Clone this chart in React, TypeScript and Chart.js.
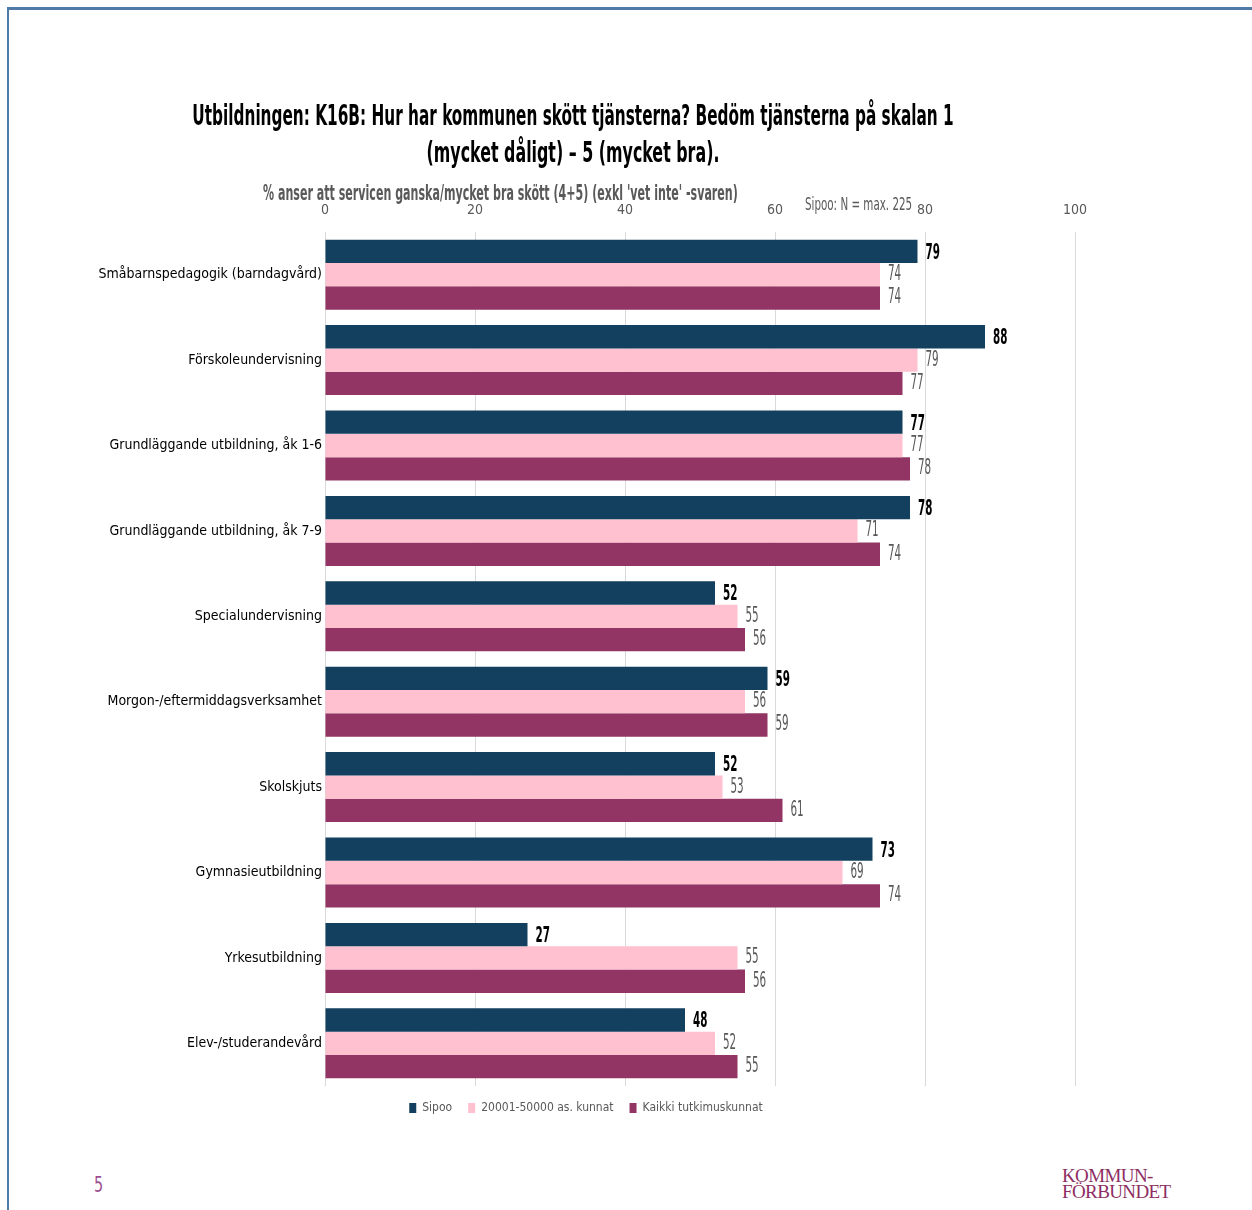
import React, { useEffect, useRef } from "react";
import { Chart, registerables } from "chart.js";

Chart.register(...registerables);

const categories = [
  "Småbarnspedagogik (barndagvård)",
  "Förskoleundervisning",
  "Grundläggande utbildning, åk 1-6",
  "Grundläggande utbildning, åk 7-9",
  "Specialundervisning",
  "Morgon-/eftermiddagsverksamhet",
  "Skolskjuts",
  "Gymnasieutbildning",
  "Yrkesutbildning",
  "Elev-/studerandevård",
];
const seriesNames = ["Sipoo", "20001-50000 as. kunnat", "Kaikki tutkimuskunnat"];
const sipooValues = [79, 88, 77, 78, 52, 59, 52, 73, 27, 48];
const midSizeValues = [74, 79, 77, 71, 55, 56, 53, 69, 55, 52];
const allValues = [74, 77, 78, 74, 56, 59, 61, 74, 56, 55];
const seriesColors = ["#13405f", "#ffc0cf", "#923565"];
const axisMin = 0;
const axisMax = 100;
const axisStep = 20;

const titleLines = [
  "Utbildningen: K16B: Hur har kommunen skött tjänsterna? Bedöm tjänsterna på skalan 1",
  "(mycket dåligt)  – 5 (mycket bra).",
];
const subtitleText = "% anser att servicen ganska/mycket bra skött (4+5) (exkl 'vet inte' -svaren)";
const noteText = "Sipoo: N = max. 225";

const NARROW = "'Liberation Sans Narrow', 'DejaVu Sans Condensed', 'Arial Narrow', sans-serif";

const dataLabelPlugin = {
  id: "dataLabels",
  afterDatasetsDraw(chart: any) {
    const ctx = chart.ctx;
    chart.data.datasets.forEach((ds: any, di: number) => {
      const meta = chart.getDatasetMeta(di);
      meta.data.forEach((el: any, i: number) => {
        const v = ds.data[i];
        ctx.save();
        ctx.translate(el.x + 8, el.y + (di === 0 ? 2 : 0));
        ctx.scale(0.72, 1.3);
        ctx.font = (di === 0 ? "bold " : "") + "16px " + NARROW;
        ctx.fillStyle = di === 0 ? "#000000" : "#595959";
        ctx.textAlign = "left";
        ctx.textBaseline = "middle";
        ctx.fillText(String(v), 0, 0);
        ctx.restore();
      });
    });
  },
};

function BarChart() {
  const ref = useRef<HTMLCanvasElement | null>(null);
  useEffect(() => {
    if (!ref.current) return;
    const chart = new Chart(ref.current, {
      type: "bar",
      data: {
        labels: categories,
        datasets: [sipooValues, midSizeValues, allValues].map((vals, i) => ({
          label: seriesNames[i],
          data: vals,
          backgroundColor: seriesColors[i],
          borderWidth: 0,
          barPercentage: 1,
          categoryPercentage: 0.82,
        })),
      },
      options: {
        indexAxis: "y",
        animation: false,
        responsive: false,
        maintainAspectRatio: false,
        layout: { padding: { top: 192, left: 97, right: 97, bottom: 6 } },
        scales: {
          x: {
            position: "top",
            min: axisMin,
            max: axisMax,
            ticks: {
              stepSize: axisStep,
              color: "#595959",
              padding: 13,
              font: { family: NARROW, size: 14 },
            },
            grid: { color: "#d9d9d9", drawTicks: false },
            border: { display: false },
            afterFit(scale: any) {
              scale.height = 40;
            },
          },
          y: {
            ticks: {
              color: "#000000",
              padding: 3,
              font: { family: NARROW, size: 14 },
            },
            grid: { display: false, drawTicks: false },
            border: { display: false },
            afterFit(scale: any) {
              scale.width = 228;
            },
          },
        },
        plugins: {
          legend: {
            position: "bottom",
            labels: {
              boxWidth: 7,
              boxHeight: 10,
              padding: 16,
              color: "#595959",
              font: { family: NARROW, size: 12 },
            },
          },
          tooltip: { enabled: false },
        },
      },
      plugins: [dataLabelPlugin],
    } as any);
    return () => chart.destroy();
  }, []);
  return (
    <canvas
      ref={ref}
      width={1172}
      height={1130}
      style={{ position: "absolute", left: 0, top: 0, width: 1172, height: 1130 }}
    />
  );
}

export default function App() {
  const textBase: React.CSSProperties = {
    position: "absolute",
    whiteSpace: "nowrap",
    fontFamily: NARROW,
  };
  return (
    <div
      style={{
        position: "absolute",
        left: 0,
        top: 0,
        width: 1252,
        height: 1210,
        background: "#ffffff",
        overflow: "hidden",
      }}
    >
      <div style={{ position: "absolute", left: 7, top: 7, width: 1245, height: 3, background: "#4f7ba6" }} />
      <div style={{ position: "absolute", left: 7, top: 7, width: 2, height: 1203, background: "#4f7ba6" }} />
      <BarChart />
      {titleLines.map((t, i) => (
        <div
          key={i}
          style={{
            ...textBase,
            left: 0,
            width: 1146,
            textAlign: "center",
            top: (i === 0 ? 116 : 153) - 14,
            height: 28,
            lineHeight: "28px",
            fontSize: 21,
            fontWeight: "bold",
            color: "#000000",
            transform: i === 0 ? "scale(0.81, 1.35)" : "scale(0.84, 1.35)",
          }}
        >
          {t}
        </div>
      ))}
      <div
        style={{
          ...textBase,
          left: 263,
          top: 194 - 11,
          height: 22,
          lineHeight: "22px",
          fontSize: 16,
          fontWeight: "bold",
          color: "#595959",
          transform: "scale(0.77, 1.3)",
          transformOrigin: "left center",
        }}
      >
        {subtitleText}
      </div>
      <div
        style={{
          ...textBase,
          left: 805,
          top: 203 - 10,
          height: 20,
          lineHeight: "20px",
          fontSize: 14,
          color: "#595959",
          transform: "scale(0.82, 1.3)",
          transformOrigin: "left center",
        }}
      >
        {noteText}
      </div>
      <div
        style={{
          ...textBase,
          left: 94,
          top: 1185 - 10,
          height: 20,
          lineHeight: "20px",
          fontSize: 16,
          color: "#9b4f8f",
          transform: "scaleY(1.3)",
          transformOrigin: "left center",
        }}
      >
        5
      </div>
      <div
        style={{
          position: "absolute",
          left: 1062,
          top: 1168,
          fontFamily: "'Liberation Serif', 'DejaVu Serif', serif",
          fontSize: 19,
          lineHeight: "16px",
          letterSpacing: "-0.6px",
          color: "#8e2d62",
          whiteSpace: "nowrap",
        }}
      >
        <div>KOMMUN-</div>
        <div>FÖRBUNDET</div>
      </div>
    </div>
  );
}
